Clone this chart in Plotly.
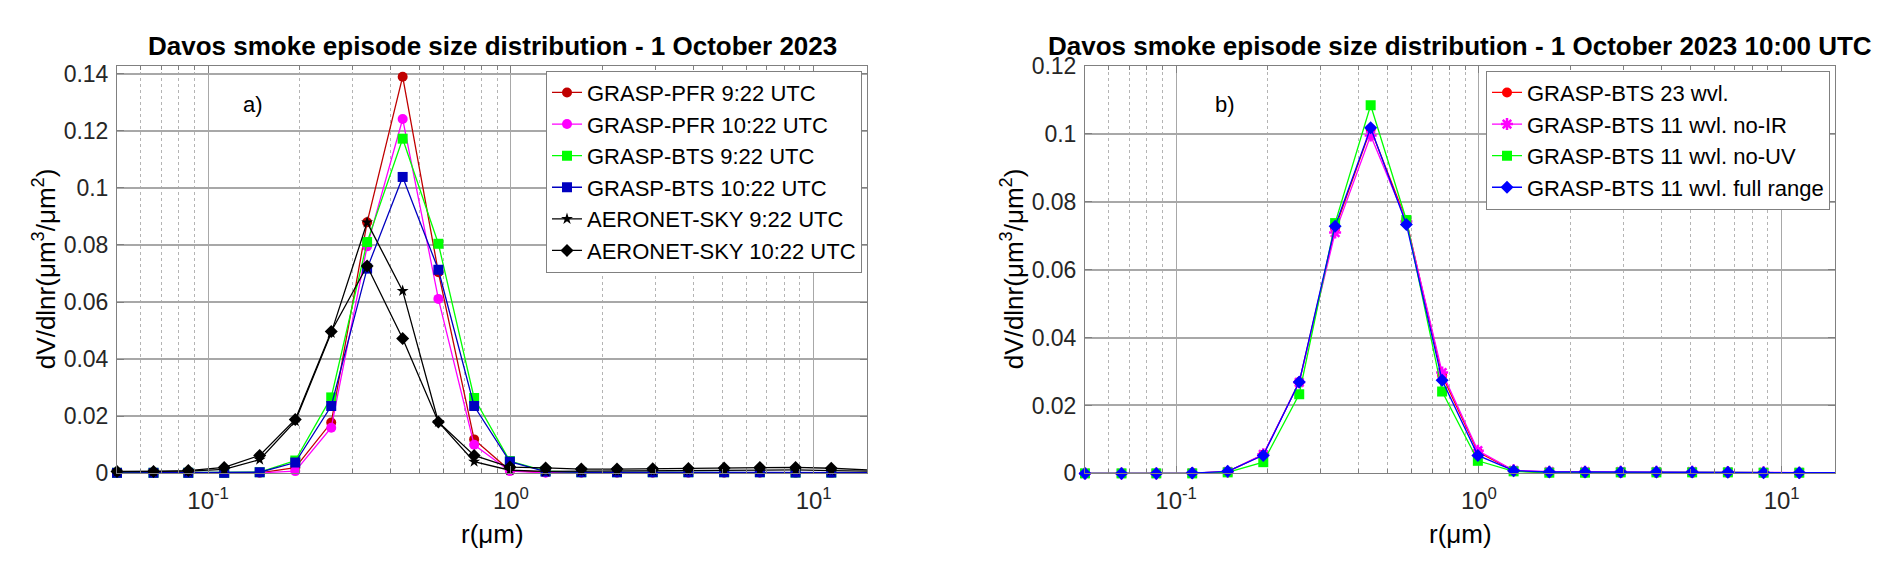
import plotly.graph_objects as go

# AERONET radius bins (um)
radius = [0.050, 0.066, 0.086, 0.113, 0.148, 0.194, 0.255, 0.335, 0.439, 0.576, 0.756,
          0.992, 1.302, 1.708, 2.241, 2.940, 3.857, 5.061, 6.641, 8.713, 11.432, 15.000]

# ---------------- panel a) ----------------
pfr_0922 = [0.0001, 0.0001, 0.0001, 0.0001, 0.0002, 0.0020, 0.0178, 0.0879, 0.1389, 0.0704, 0.0119,
            0.0010, 0.0004, 0.0003, 0.0003, 0.0003, 0.0003, 0.0003, 0.0003, 0.0002, 0.0002, 0.0001]
pfr_1022 = [0.0001, 0.0001, 0.0001, 0.0001, 0.0002, 0.0008, 0.0160, 0.0795, 0.1241, 0.0611, 0.0100,
            0.0008, 0.0002, 0.0002, 0.0002, 0.0002, 0.0002, 0.0002, 0.0002, 0.0002, 0.0001, 0.0001]
bts_0922 = [0.0002, 0.0002, 0.0002, 0.0002, 0.0004, 0.0045, 0.0266, 0.0810, 0.1172, 0.0804, 0.0264,
            0.0043, 0.0008, 0.0004, 0.0004, 0.0004, 0.0004, 0.0004, 0.0004, 0.0003, 0.0003, 0.0002]
bts_1022 = [0.0002, 0.0002, 0.0002, 0.0002, 0.0004, 0.0038, 0.0236, 0.0717, 0.1038, 0.0713, 0.0236,
            0.0041, 0.0006, 0.0004, 0.0004, 0.0004, 0.0004, 0.0004, 0.0004, 0.0003, 0.0003, 0.0003]
sky_0922 = [0.0006, 0.0006, 0.0008, 0.0014, 0.0048, 0.0183, 0.0492, 0.0879, 0.0639, 0.0180, 0.0041,
            0.0011, 0.0007, 0.0008, 0.0009, 0.0010, 0.0011, 0.0012, 0.0012, 0.0012, 0.0010, 0.0008]
sky_1022 = [0.0007, 0.0007, 0.0010, 0.0021, 0.0063, 0.0189, 0.0497, 0.0726, 0.0472, 0.0180, 0.0063,
            0.0022, 0.0019, 0.0015, 0.0015, 0.0016, 0.0017, 0.0019, 0.0021, 0.0021, 0.0018, 0.0012]

# ---------------- panel b) ----------------
bts23 = [0.0000, 0.0000, 0.0000, 0.0001, 0.0005, 0.0055, 0.0269, 0.0721, 0.1014, 0.0745, 0.0288,
         0.0063, 0.0008, 0.0001, 0.0001, 0.0001, 0.0001, 0.0001, 0.0001, 0.0001, 0.0001, 0.0001]
bts11_noir = [0.0000, 0.0000, 0.0000, 0.0001, 0.0005, 0.0056, 0.0268, 0.0709, 0.0995, 0.0742, 0.0297,
              0.0067, 0.0009, 0.0005, 0.0005, 0.0005, 0.0005, 0.0005, 0.0004, 0.0003, 0.0002, 0.0002]
bts11_nouv = [0.0000, 0.0000, 0.0000, 0.0000, 0.0003, 0.0033, 0.0233, 0.0737, 0.1084, 0.0746, 0.0241,
              0.0037, 0.0006, 0.0002, 0.0002, 0.0003, 0.0003, 0.0003, 0.0003, 0.0002, 0.0002, 0.0001]
bts11_full = [0.0000, 0.0000, 0.0000, 0.0001, 0.0006, 0.0053, 0.0269, 0.0728, 0.1018, 0.0733, 0.0274,
              0.0053, 0.0008, 0.0004, 0.0004, 0.0004, 0.0004, 0.0004, 0.0003, 0.0002, 0.0002, 0.0002]

y_ticks_a = [0, 0.02, 0.04, 0.06, 0.08, 0.1, 0.12, 0.14]
y_ticks_b = [0, 0.02, 0.04, 0.06, 0.08, 0.1, 0.12]
x_ticks = [0.1, 1, 10]
x_ticktext = ['10<sup>-1</sup>', '10<sup>0</sup>', '10<sup>1</sup>']
minor_vals = [0.06, 0.07, 0.08, 0.09, 0.2, 0.3, 0.4, 0.5, 0.6, 0.7, 0.8, 0.9,
              2, 3, 4, 5, 6, 7, 8, 9]

FONT = 'Liberation Sans, Arial, sans-serif'
W, H = 1892, 570

fig = go.Figure()

series_a = [
    ('GRASP-PFR 9:22 UTC', pfr_0922, '#C00000', 'circle'),
    ('GRASP-PFR 10:22 UTC', pfr_1022, '#FF00FF', 'circle'),
    ('GRASP-BTS 9:22 UTC', bts_0922, '#00FF00', 'square'),
    ('GRASP-BTS 10:22 UTC', bts_1022, '#0000C0', 'square'),
    ('AERONET-SKY 9:22 UTC', sky_0922, '#000000', 'star'),
    ('AERONET-SKY 10:22 UTC', sky_1022, '#000000', 'diamond'),
]
for name, vals, col, sym in series_a:
    fig.add_trace(go.Scatter(
        x=radius, y=vals, name=name, mode='lines+markers',
        line=dict(color=col, width=1.3),
        marker=dict(symbol=sym, size=10 if sym != 'star' else 9, color=col),
        cliponaxis=False, xaxis='x', yaxis='y', legend='legend'))

series_b = [
    ('GRASP-BTS 23 wvl.', bts23, '#FF0000', 'circle'),
    ('GRASP-BTS 11 wvl. no-IR', bts11_noir, '#FF00FF', 'asterisk'),
    ('GRASP-BTS 11 wvl. no-UV', bts11_nouv, '#00FF00', 'square'),
    ('GRASP-BTS 11 wvl. full range', bts11_full, '#0000FF', 'diamond'),
]
for name, vals, col, sym in series_b:
    mk = dict(symbol=sym, size=10, color=col)
    if sym == 'asterisk':
        mk = dict(symbol='asterisk', size=10, color=col, line=dict(color=col, width=2.5))
    fig.add_trace(go.Scatter(
        x=radius, y=vals, name=name, mode='lines+markers',
        line=dict(color=col, width=1.3), marker=mk,
        cliponaxis=False, xaxis='x2', yaxis='y2', legend='legend2'))

xax = dict(
    type='log', range=[-1.30103, 1.17609],
    tickvals=x_ticks, ticktext=x_ticktext,
    showgrid=True, gridcolor='#a8a8a8', gridwidth=1.3,
    minor=dict(tickvals=minor_vals, showgrid=True, gridcolor='#b4b4b4',
               griddash='dot', gridwidth=1, ticks='inside', ticklen=4, tickcolor='#808080'),
    showline=True, linecolor='#808080', linewidth=1, mirror='ticks',
    ticks='inside', ticklen=7, tickcolor='#808080',
    tickfont=dict(family=FONT, size=24, color='#262626'),
    ticklabelstandoff=6,
    zeroline=False,
)
yax = dict(
    showgrid=True, gridcolor='#a8a8a8', gridwidth=1.6,
    showline=True, linecolor='#808080', linewidth=1, mirror='ticks',
    ticks='inside', ticklen=7, tickcolor='#808080',
    tickfont=dict(family=FONT, size=23, color='#262626'),
    ticklabelstandoff=3,
    zeroline=False,
)

fig.update_layout(
    width=W, height=H,
    margin=dict(l=0, r=0, t=0, b=0),
    paper_bgcolor='white', plot_bgcolor='white',
    font=dict(family=FONT, color='#262626'),
    xaxis=dict(xax, domain=[109 / W, 859 / W], anchor='y'),
    yaxis=dict(yax, domain=[1 - 474 / H, 1 - 47 / H], anchor='x', range=[0, 0.1427],
               tickvals=y_ticks_a, ticktext=['0', '0.02', '0.04', '0.06', '0.08', '0.1', '0.12', '0.14']),
    xaxis2=dict(xax, domain=[1077 / W, 1827 / W], anchor='y2'),
    yaxis2=dict(yax, domain=[1 - 474 / H, 1 - 47 / H], anchor='x2', range=[0, 0.12],
                tickvals=y_ticks_b, ticktext=['0', '0.02', '0.04', '0.06', '0.08', '0.1', '0.12']),
    legend=dict(x=854 / W, y=1 - 52 / H, xanchor='right', yanchor='top',
                bgcolor='white', bordercolor='#808080', borderwidth=1,
                font=dict(family=FONT, size=22, color='black'), itemwidth=30,
                tracegroupgap=0),
    legend2=dict(x=1822 / W, y=1 - 52 / H, xanchor='right', yanchor='top',
                 bgcolor='white', bordercolor='#808080', borderwidth=1,
                 font=dict(family=FONT, size=22, color='black'), itemwidth=30,
                 tracegroupgap=0),
    showlegend=True,
)

ann = [
    dict(text='<b>Davos smoke episode size distribution - 1 October 2023</b>', x=484, y=26, size=26),
    dict(text='<b>Davos smoke episode size distribution - 1 October 2023 10:00 UTC</b>', x=1452, y=26, size=26),
    dict(text='a)', x=245, y=88, size=22),
    dict(text='b)', x=1217, y=88, size=22),
    dict(text='r(\u03bcm)', x=484, y=537, size=26),
    dict(text='r(\u03bcm)', x=1452, y=537, size=26),
]
for a in ann:
    fig.add_annotation(text=a['text'], x=a['x'] / W, y=1 - a['y'] / H, xref='paper', yref='paper',
                       showarrow=False, xanchor='center', yanchor='middle',
                       font=dict(family=FONT, size=a['size'], color='black'))
for xp in (36, 1004):
    fig.add_annotation(text='dV/dlnr(\u03bcm<sup>3</sup>/\u03bcm<sup>2</sup>)', x=xp / W, y=1 - 260 / H,
                       xref='paper', yref='paper', showarrow=False, textangle=-90,
                       xanchor='center', yanchor='middle',
                       font=dict(family=FONT, size=26, color='black'))

fig.write_html("out.html")
